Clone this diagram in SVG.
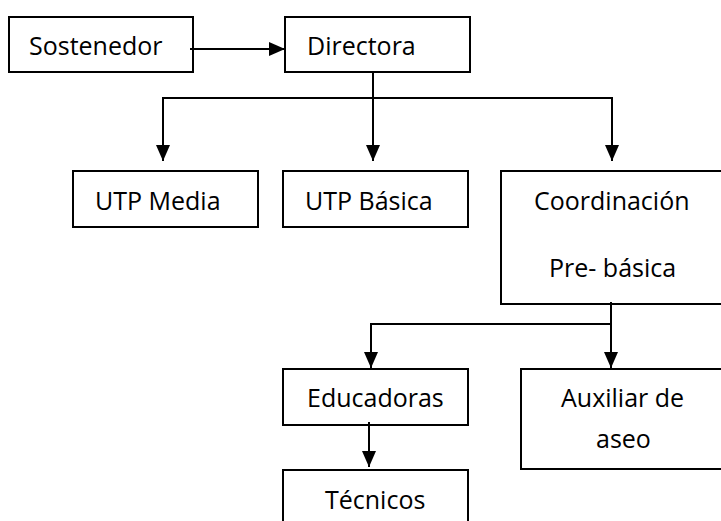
<svg xmlns="http://www.w3.org/2000/svg" width="721" height="521" viewBox="0 0 721 521">
<style>
rect.box{fill:#fff;stroke:#000;stroke-width:2}
text{font-family:"Open Sans","Liberation Sans",sans-serif;font-size:25px;fill:#000}
.c path{fill:none;stroke:#000;stroke-width:2}
</style>
<defs>
<marker id="ah" viewBox="0 0 16 14" refX="16" refY="7" markerWidth="16" markerHeight="14" markerUnits="userSpaceOnUse" orient="auto">
<path d="M0,0 L16,7 L0,14 Z" fill="#000"/>
</marker>
</defs>
<rect width="721" height="521" fill="#fff"/>
<g id="sostenedor"><rect class="box" x="9" y="17" width="184" height="55"/><text x="29" y="55">Sostenedor</text></g>
<g id="directora"><rect class="box" x="285" y="17" width="185" height="55"/><text x="307" y="55">Directora</text></g>
<g id="utp-media"><rect class="box" x="73" y="171" width="185" height="56"/><text x="95" y="210">UTP Media</text></g>
<g id="utp-basica"><rect class="box" x="283" y="171" width="185" height="56"/><text x="305" y="210">UTP Básica</text></g>
<g id="coordinacion"><rect class="box" x="501" y="171" width="230" height="133"/><text x="534" y="210">Coordinación</text><text x="549" y="277">Pre- básica</text></g>
<g id="educadoras"><rect class="box" x="283" y="369" width="185" height="56"/><text x="307" y="407">Educadoras</text></g>
<g id="auxiliar"><rect class="box" x="521" y="369" width="210" height="100"/><text x="561" y="407">Auxiliar de</text><text x="596" y="448">aseo</text></g>
<g id="tecnicos"><rect class="box" x="283" y="470" width="185" height="60"/><text x="325" y="509">Técnicos</text></g>
<g class="c" id="connectors">
<path d="M190,49 H285" marker-end="url(#ah)"/>
<path d="M373,71 V161" marker-end="url(#ah)"/>
<path d="M163,98 H612"/>
<path d="M163,97 V161" marker-end="url(#ah)"/>
<path d="M612,97 V161" marker-end="url(#ah)"/>
<path d="M611,302 V368" marker-end="url(#ah)"/>
<path d="M371,324 H611"/>
<path d="M371,323 V368" marker-end="url(#ah)"/>
<path d="M369,422 V467" marker-end="url(#ah)"/>
</g>
</svg>
